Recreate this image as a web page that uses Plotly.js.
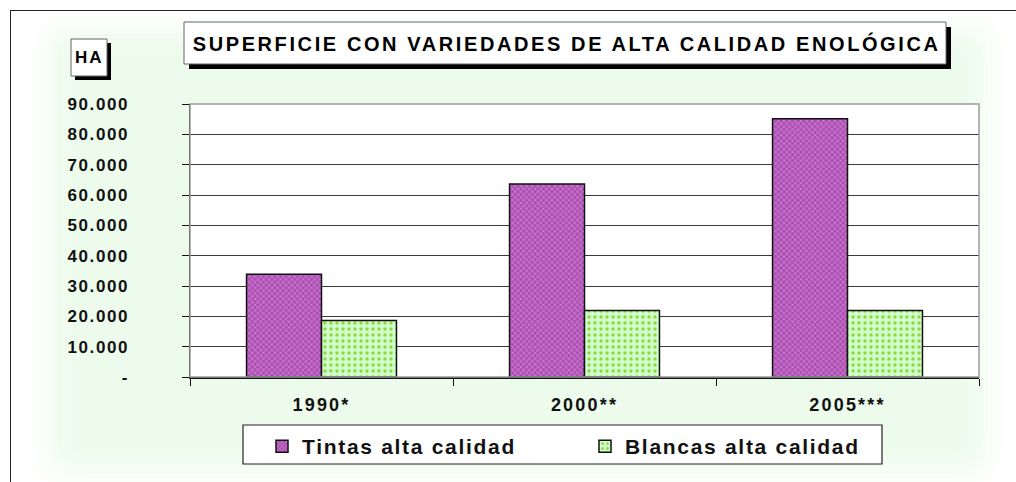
<!DOCTYPE html>
<html>
<head>
<meta charset="utf-8">
<script src="https://cdn.plot.ly/plotly-3.0.1.min.js"></script>
<style>
html,body{margin:0;padding:0;background:#fff;width:1016px;height:482px;overflow:hidden;}
#bg{position:absolute;left:50px;top:30px;width:935px;height:440px;background:#ecfbec;filter:blur(14px);}
#frame{position:absolute;left:10px;top:10px;width:1010px;height:480px;border-top:1.5px solid #222;border-left:1.5px solid #222;}
#chart{position:absolute;left:0;top:0;width:1016px;height:482px;}
#chart .ytick text{letter-spacing:1.6px;}
#chart .xtick text{letter-spacing:2.2px;}
#chart .legendtext{letter-spacing:1.7px;}
#chart .annotation[data-index="0"] text{letter-spacing:2.6px;}
#chart .annotation[data-index="1"] text{letter-spacing:2px;}
</style>
</head>
<body>
<div id="bg"></div>
<div id="frame"></div>
<div id="chart"></div>
<script>
// Data
const categories = ["1990*", "2000**", "2005***"];
const tintas = [33900, 63600, 85100];
const blancas = [18600, 21900, 21900];
const seriesNames = ["Tintas alta calidad", "Blancas alta calidad"];
const yTickVals = [0, 10000, 20000, 30000, 40000, 50000, 60000, 70000, 80000, 90000];
const yTickText = ["-", "10.000", "20.000", "30.000", "40.000", "50.000", "60.000", "70.000", "80.000", "90.000"];
const titleText = "SUPERFICIE CON VARIEDADES DE ALTA CALIDAD ENOLÓGICA";
const unitText = "HA";

const W = 1016, H = 482;
const L = 190, R = 979, T = 104, B = 377;
// pixel -> paper helpers for decorations
const px = x => (x - L) / (R - L);
const py = y => (B - y) / (B - T);

const font = "Liberation Sans, Arial, sans-serif";

const traces = [
  {
    type: "bar", name: seriesNames[0], x: categories, y: tintas,
    marker: {color: "#b358b8", line: {color: "#111", width: 1.5},
      pattern: {shape: "x", fgcolor: "#cf8ee6", bgcolor: "#b050b0", size: 4, solidity: 0.3}}
  },
  {
    type: "bar", name: seriesNames[1], x: categories, y: blancas,
    marker: {color: "#ccffcc", line: {color: "#111", width: 1.5},
      pattern: {shape: ".", fgcolor: "#9ad23a", bgcolor: "#ccffcc", size: 6, solidity: 0.25}}
  }
];

const layout = {
  width: W, height: H,
  margin: {l: L, r: W - R, t: T, b: H - B, pad: 0},
  paper_bgcolor: "rgba(0,0,0,0)",
  plot_bgcolor: "#ffffff",
  barmode: "group", bargap: 0.43, bargroupgap: 0,
  font: {family: font, color: "#111"},
  xaxis: {
    showline: true, linecolor: "#111", linewidth: 1.5,
    ticks: "outside", ticklen: 7, tickcolor: "#111", tickwidth: 1, tickson: "boundaries",
    tickfont: {family: font, size: 18, weight: "bold", color: "#111"},
    ticklabelstandoff: 11, showgrid: false, zeroline: false
  },
  yaxis: {
    range: [0, 90000], tickvals: yTickVals, ticktext: yTickText,
    showline: true, linecolor: "#111", linewidth: 1.5,
    ticks: "outside", ticklen: 7, tickcolor: "#111", tickwidth: 1,
    tickfont: {family: font, size: 17, weight: "bold", color: "#111"},
    ticklabelstandoff: 49,
    showgrid: true, gridcolor: "#3a3a3a", gridwidth: 1, zeroline: false
  },
  showlegend: true,
  legend: {
    orientation: "h", x: px(262), xanchor: "left", y: py(426), yanchor: "top",
    bgcolor: "rgba(0,0,0,0)", borderwidth: 0,
    font: {family: font, size: 21, weight: "bold", color: "#111"},
    entrywidth: 278, entrywidthmode: "pixels", traceorder: "normal"
  },
  shapes: [
    {type: "rect", xref: "paper", yref: "paper", x0: 0, x1: 1, y0: 0, y1: 1, line: {color: "#9a9a9a", width: 1.5}, layer: "above"},
    {type: "rect", xref: "paper", yref: "paper", x0: px(189), x1: px(951), y0: py(69), y1: py(27), fillcolor: "#000", line: {width: 0}},
    {type: "rect", xref: "paper", yref: "paper", x0: px(184), x1: px(946), y0: py(64), y1: py(22), fillcolor: "#fff", line: {color: "#666", width: 1}},
    {type: "rect", xref: "paper", yref: "paper", x0: px(75), x1: px(111), y0: py(80), y1: py(43), fillcolor: "#000", line: {width: 0}},
    {type: "rect", xref: "paper", yref: "paper", x0: px(71), x1: px(107), y0: py(76), y1: py(39), fillcolor: "#fff", line: {color: "#666", width: 1}},
    {type: "rect", xref: "paper", yref: "paper", x0: px(243), x1: px(882), y0: py(464), y1: py(425), fillcolor: "#fff", line: {color: "#222", width: 1.2}, layer: "below"}
  ],
  annotations: [
    {xref: "paper", yref: "paper", x: px(566), y: py(44), xanchor: "center", yanchor: "middle",
     text: "<b>" + titleText + "</b>", showarrow: false, font: {family: font, size: 20, color: "#000"}},
    {xref: "paper", yref: "paper", x: px(90), y: py(58), xanchor: "center", yanchor: "middle",
     text: "<b>" + unitText + "</b>", showarrow: false, font: {family: font, size: 17, color: "#000"}}
  ]
};

Plotly.newPlot("chart", traces, layout, {displayModeBar: false, staticPlot: true});
</script>
</body>
</html>
